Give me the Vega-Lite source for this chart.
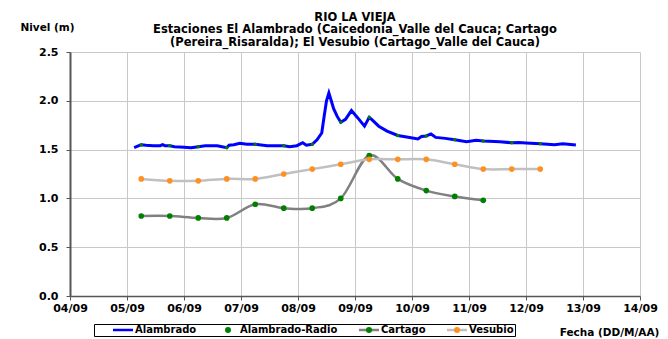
{
  "$schema": "https://vega.github.io/schema/vega-lite/v6.json",
  "width": 570,
  "height": 244,
  "autosize": {"type": "none"},
  "padding": {"left": 70, "top": 52, "right": 28, "bottom": 43},
  "background": "white",
  "config": {"view": {"stroke": null}, "font": "DejaVu Sans"},
  "title": {
    "text": ["RIO LA VIEJA", "Estaciones El Alambrado (Caicedonia_Valle del Cauca; Cartago", "(Pereira_Risaralda);  El Vesubio (Cartago_Valle del Cauca)"],
    "anchor": "middle",
    "frame": "group",
    "font": "DejaVu Sans",
    "fontSize": 11.5,
    "fontWeight": "bold",
    "lineHeight": 12.5,
    "offset": -26,
    "color": "black"
  },
  "datasets": {
    "niveles": [
      {"fecha": "2010-09-05T03:00", "nivel": 1.52, "serie": "Alambrado"},
      {"fecha": "2010-09-05T05:00", "nivel": 1.54, "serie": "Alambrado"},
      {"fecha": "2010-09-05T06:00", "nivel": 1.55, "serie": "Alambrado"},
      {"fecha": "2010-09-05T08:00", "nivel": 1.545, "serie": "Alambrado"},
      {"fecha": "2010-09-05T11:00", "nivel": 1.54, "serie": "Alambrado"},
      {"fecha": "2010-09-05T14:00", "nivel": 1.54, "serie": "Alambrado"},
      {"fecha": "2010-09-05T15:00", "nivel": 1.55, "serie": "Alambrado"},
      {"fecha": "2010-09-05T16:00", "nivel": 1.54, "serie": "Alambrado"},
      {"fecha": "2010-09-05T18:00", "nivel": 1.54, "serie": "Alambrado"},
      {"fecha": "2010-09-05T20:00", "nivel": 1.53, "serie": "Alambrado"},
      {"fecha": "2010-09-06T00:00", "nivel": 1.525, "serie": "Alambrado"},
      {"fecha": "2010-09-06T03:00", "nivel": 1.52, "serie": "Alambrado"},
      {"fecha": "2010-09-06T06:00", "nivel": 1.53, "serie": "Alambrado"},
      {"fecha": "2010-09-06T09:00", "nivel": 1.54, "serie": "Alambrado"},
      {"fecha": "2010-09-06T14:00", "nivel": 1.54, "serie": "Alambrado"},
      {"fecha": "2010-09-06T16:00", "nivel": 1.53, "serie": "Alambrado"},
      {"fecha": "2010-09-06T18:00", "nivel": 1.52, "serie": "Alambrado"},
      {"fecha": "2010-09-06T19:00", "nivel": 1.545, "serie": "Alambrado"},
      {"fecha": "2010-09-06T21:00", "nivel": 1.55, "serie": "Alambrado"},
      {"fecha": "2010-09-06T23:30", "nivel": 1.565, "serie": "Alambrado"},
      {"fecha": "2010-09-07T02:30", "nivel": 1.555, "serie": "Alambrado"},
      {"fecha": "2010-09-07T06:00", "nivel": 1.555, "serie": "Alambrado"},
      {"fecha": "2010-09-07T11:00", "nivel": 1.54, "serie": "Alambrado"},
      {"fecha": "2010-09-07T18:00", "nivel": 1.54, "serie": "Alambrado"},
      {"fecha": "2010-09-07T20:30", "nivel": 1.53, "serie": "Alambrado"},
      {"fecha": "2010-09-07T23:30", "nivel": 1.54, "serie": "Alambrado"},
      {"fecha": "2010-09-08T02:00", "nivel": 1.57, "serie": "Alambrado"},
      {"fecha": "2010-09-08T03:30", "nivel": 1.545, "serie": "Alambrado"},
      {"fecha": "2010-09-08T06:00", "nivel": 1.555, "serie": "Alambrado"},
      {"fecha": "2010-09-08T08:00", "nivel": 1.6, "serie": "Alambrado"},
      {"fecha": "2010-09-08T10:00", "nivel": 1.67, "serie": "Alambrado"},
      {"fecha": "2010-09-08T11:00", "nivel": 1.84, "serie": "Alambrado"},
      {"fecha": "2010-09-08T12:00", "nivel": 2.0, "serie": "Alambrado"},
      {"fecha": "2010-09-08T13:00", "nivel": 2.08, "serie": "Alambrado"},
      {"fecha": "2010-09-08T14:00", "nivel": 2.0, "serie": "Alambrado"},
      {"fecha": "2010-09-08T15:00", "nivel": 1.92, "serie": "Alambrado"},
      {"fecha": "2010-09-08T16:30", "nivel": 1.84, "serie": "Alambrado"},
      {"fecha": "2010-09-08T18:00", "nivel": 1.78, "serie": "Alambrado"},
      {"fecha": "2010-09-08T20:00", "nivel": 1.81, "serie": "Alambrado"},
      {"fecha": "2010-09-08T22:30", "nivel": 1.9, "serie": "Alambrado"},
      {"fecha": "2010-09-09T01:00", "nivel": 1.83, "serie": "Alambrado"},
      {"fecha": "2010-09-09T04:00", "nivel": 1.74, "serie": "Alambrado"},
      {"fecha": "2010-09-09T06:00", "nivel": 1.83, "serie": "Alambrado"},
      {"fecha": "2010-09-09T07:00", "nivel": 1.81, "serie": "Alambrado"},
      {"fecha": "2010-09-09T10:00", "nivel": 1.74, "serie": "Alambrado"},
      {"fecha": "2010-09-09T13:30", "nivel": 1.69, "serie": "Alambrado"},
      {"fecha": "2010-09-09T18:00", "nivel": 1.645, "serie": "Alambrado"},
      {"fecha": "2010-09-09T23:00", "nivel": 1.625, "serie": "Alambrado"},
      {"fecha": "2010-09-10T02:30", "nivel": 1.61, "serie": "Alambrado"},
      {"fecha": "2010-09-10T04:00", "nivel": 1.635, "serie": "Alambrado"},
      {"fecha": "2010-09-10T06:00", "nivel": 1.64, "serie": "Alambrado"},
      {"fecha": "2010-09-10T08:00", "nivel": 1.66, "serie": "Alambrado"},
      {"fecha": "2010-09-10T10:00", "nivel": 1.625, "serie": "Alambrado"},
      {"fecha": "2010-09-10T14:00", "nivel": 1.615, "serie": "Alambrado"},
      {"fecha": "2010-09-10T18:00", "nivel": 1.6, "serie": "Alambrado"},
      {"fecha": "2010-09-10T23:00", "nivel": 1.58, "serie": "Alambrado"},
      {"fecha": "2010-09-11T03:00", "nivel": 1.595, "serie": "Alambrado"},
      {"fecha": "2010-09-11T06:00", "nivel": 1.588, "serie": "Alambrado"},
      {"fecha": "2010-09-11T13:00", "nivel": 1.58, "serie": "Alambrado"},
      {"fecha": "2010-09-11T18:00", "nivel": 1.57, "serie": "Alambrado"},
      {"fecha": "2010-09-11T21:00", "nivel": 1.572, "serie": "Alambrado"},
      {"fecha": "2010-09-12T00:00", "nivel": 1.568, "serie": "Alambrado"},
      {"fecha": "2010-09-12T06:00", "nivel": 1.56, "serie": "Alambrado"},
      {"fecha": "2010-09-12T12:00", "nivel": 1.55, "serie": "Alambrado"},
      {"fecha": "2010-09-12T15:30", "nivel": 1.56, "serie": "Alambrado"},
      {"fecha": "2010-09-12T21:00", "nivel": 1.547, "serie": "Alambrado"},

      {"fecha": "2010-09-05T06:00", "nivel": 1.55, "serie": "Alambrado-Radio"},
      {"fecha": "2010-09-05T18:00", "nivel": 1.54, "serie": "Alambrado-Radio"},
      {"fecha": "2010-09-06T06:00", "nivel": 1.53, "serie": "Alambrado-Radio"},
      {"fecha": "2010-09-06T18:00", "nivel": 1.52, "serie": "Alambrado-Radio"},
      {"fecha": "2010-09-07T06:00", "nivel": 1.555, "serie": "Alambrado-Radio"},
      {"fecha": "2010-09-07T18:00", "nivel": 1.54, "serie": "Alambrado-Radio"},
      {"fecha": "2010-09-08T06:00", "nivel": 1.555, "serie": "Alambrado-Radio"},
      {"fecha": "2010-09-08T18:00", "nivel": 1.78, "serie": "Alambrado-Radio"},
      {"fecha": "2010-09-09T06:00", "nivel": 1.83, "serie": "Alambrado-Radio"},
      {"fecha": "2010-09-09T18:00", "nivel": 1.645, "serie": "Alambrado-Radio"},
      {"fecha": "2010-09-10T06:00", "nivel": 1.64, "serie": "Alambrado-Radio"},
      {"fecha": "2010-09-10T18:00", "nivel": 1.6, "serie": "Alambrado-Radio"},
      {"fecha": "2010-09-11T06:00", "nivel": 1.588, "serie": "Alambrado-Radio"},
      {"fecha": "2010-09-11T18:00", "nivel": 1.57, "serie": "Alambrado-Radio"},
      {"fecha": "2010-09-12T06:00", "nivel": 1.56, "serie": "Alambrado-Radio"},

      {"fecha": "2010-09-05T06:00", "nivel": 0.82, "serie": "Cartago"},
      {"fecha": "2010-09-05T18:00", "nivel": 0.82, "serie": "Cartago"},
      {"fecha": "2010-09-06T06:00", "nivel": 0.8, "serie": "Cartago"},
      {"fecha": "2010-09-06T18:00", "nivel": 0.8, "serie": "Cartago"},
      {"fecha": "2010-09-07T06:00", "nivel": 0.94, "serie": "Cartago"},
      {"fecha": "2010-09-07T18:00", "nivel": 0.9, "serie": "Cartago"},
      {"fecha": "2010-09-08T06:00", "nivel": 0.9, "serie": "Cartago"},
      {"fecha": "2010-09-08T18:00", "nivel": 1.0, "serie": "Cartago"},
      {"fecha": "2010-09-09T06:00", "nivel": 1.44, "serie": "Cartago"},
      {"fecha": "2010-09-09T18:00", "nivel": 1.2, "serie": "Cartago"},
      {"fecha": "2010-09-10T06:00", "nivel": 1.08, "serie": "Cartago"},
      {"fecha": "2010-09-10T18:00", "nivel": 1.02, "serie": "Cartago"},
      {"fecha": "2010-09-11T06:00", "nivel": 0.98, "serie": "Cartago"},

      {"fecha": "2010-09-05T06:00", "nivel": 1.2, "serie": "Vesubio"},
      {"fecha": "2010-09-05T18:00", "nivel": 1.18, "serie": "Vesubio"},
      {"fecha": "2010-09-06T06:00", "nivel": 1.18, "serie": "Vesubio"},
      {"fecha": "2010-09-06T18:00", "nivel": 1.2, "serie": "Vesubio"},
      {"fecha": "2010-09-07T06:00", "nivel": 1.2, "serie": "Vesubio"},
      {"fecha": "2010-09-07T18:00", "nivel": 1.25, "serie": "Vesubio"},
      {"fecha": "2010-09-08T06:00", "nivel": 1.3, "serie": "Vesubio"},
      {"fecha": "2010-09-08T18:00", "nivel": 1.35, "serie": "Vesubio"},
      {"fecha": "2010-09-09T06:00", "nivel": 1.4, "serie": "Vesubio"},
      {"fecha": "2010-09-09T18:00", "nivel": 1.4, "serie": "Vesubio"},
      {"fecha": "2010-09-10T06:00", "nivel": 1.4, "serie": "Vesubio"},
      {"fecha": "2010-09-10T18:00", "nivel": 1.35, "serie": "Vesubio"},
      {"fecha": "2010-09-11T06:00", "nivel": 1.3, "serie": "Vesubio"},
      {"fecha": "2010-09-11T18:00", "nivel": 1.3, "serie": "Vesubio"},
      {"fecha": "2010-09-12T06:00", "nivel": 1.3, "serie": "Vesubio"}
    ]
  },
  "data": {"name": "niveles"},
  "encoding": {
    "x": {
      "field": "fecha",
      "type": "temporal",
      "scale": {"domain": [{"year": 2010, "month": 9, "date": 4}, {"year": 2010, "month": 9, "date": 14}]},
      "axis": {
        "format": "%d/%m",
        "tickCount": {"interval": "day", "step": 1},
        "labelFont": "DejaVu Sans",
        "labelFontSize": 11,
        "labelFontWeight": "bold",
        "labelColor": "black",
        "labelPadding": 2,
        "labelOverlap": false,
        "labelFlush": false,
        "tickSize": 4,
        "tickColor": "#555555",
        "domainColor": "#555555",
        "domainWidth": 1.5,
        "grid": true,
        "gridColor": "#c8c8c8",
        "gridWidth": 1,
        "title": "Fecha (DD/M/AA)",
        "titleX": 539,
        "titleY": 36,
        "titleAlign": "center",
        "titleBaseline": "middle",
        "titleFont": "DejaVu Sans",
        "titleFontSize": 10.5,
        "titleFontWeight": "bold",
        "titleColor": "black"
      }
    },
    "y": {
      "field": "nivel",
      "type": "quantitative",
      "scale": {"domain": [0, 2.5], "nice": false},
      "axis": {
        "values": [0, 0.5, 1, 1.5, 2, 2.5],
        "format": ".1f",
        "labelFont": "DejaVu Sans",
        "labelFontSize": 11,
        "labelFontWeight": "bold",
        "labelColor": "black",
        "labelPadding": 8,
        "tickSize": 4,
        "tickColor": "#555555",
        "domainColor": "#555555",
        "domainWidth": 2,
        "grid": true,
        "gridColor": "#c8c8c8",
        "gridWidth": 1,
        "title": "Nivel (m)",
        "titleAngle": 0,
        "titleX": -23,
        "titleY": -25,
        "titleAlign": "center",
        "titleBaseline": "middle",
        "titleFont": "DejaVu Sans",
        "titleFontSize": 10.5,
        "titleFontWeight": "bold",
        "titleColor": "black"
      }
    }
  },
  "layer": [
    {
      "transform": [{"filter": "datum.serie === 'Alambrado'"}],
      "mark": {"type": "line", "strokeWidth": 3, "interpolate": "linear"},
      "encoding": {
        "stroke": {
          "field": "serie",
          "type": "nominal",
          "scale": {"range": ["#0000FF", "transparent", "#808080", "#C0C0C0"]},
          "legend": {
            "orient": "none",
            "legendX": 24,
            "legendY": 272,
            "direction": "horizontal",
            "columns": 4,
            "columnPadding": 3,
            "padding": 1,
            "strokeColor": "black",
            "fillColor": "white",
            "title": null,
            "symbolType": "M-3.33,0H3.33",
            "symbolSize": 36,
            "symbolStrokeWidth": 2.5,
            "symbolOffset": 23,
            "labelOffset": 7,
            "labelFont": "DejaVu Sans",
            "labelFontSize": 10,
            "labelFontWeight": "bold",
            "labelColor": "black",
            "zindex": 0
          }
        }
      }
    },
    {
      "transform": [{"filter": "datum.serie !== 'Alambrado'"}],
      "mark": {"type": "line", "strokeWidth": 2.5, "interpolate": "cardinal"},
      "encoding": {
        "stroke": {"field": "serie", "type": "nominal"}
      }
    },
    {
      "transform": [{"filter": "datum.serie === 'Alambrado-Radio'"}],
      "mark": {"type": "point", "filled": true, "size": 12, "strokeWidth": 0, "opacity": 1},
      "encoding": {
        "fill": {
          "field": "serie",
          "type": "nominal",
          "scale": {"domain": ["Alambrado", "Alambrado-Radio", "Cartago", "Vesubio"], "range": ["transparent", "#008000", "#008000", "#FF9020"]},
          "legend": {
            "orient": "none",
            "legendX": 24,
            "legendY": 272,
            "direction": "horizontal",
            "columns": 4,
            "columnPadding": 3,
            "padding": 1,
            "title": null,
            "symbolType": "circle",
            "symbolSize": 36,
            "symbolStrokeWidth": 0,
            "symbolOffset": 23,
            "labelOffset": 7,
            "labelFont": "DejaVu Sans",
            "labelFontSize": 10,
            "labelFontWeight": "bold",
            "labelOpacity": 0,
            "zindex": 1,
            "encode": {"symbols": {"update": {"size": {"signal": "datum.value === 'Alambrado-Radio' ? 12 : 30"}}}}
          }
        }
      }
    },
    {
      "transform": [{"filter": "datum.serie === 'Cartago' || datum.serie === 'Vesubio'"}],
      "mark": {"type": "point", "filled": true, "size": 32, "strokeWidth": 0, "opacity": 1},
      "encoding": {
        "fill": {"field": "serie", "type": "nominal"}
      }
    }
  ]
}
